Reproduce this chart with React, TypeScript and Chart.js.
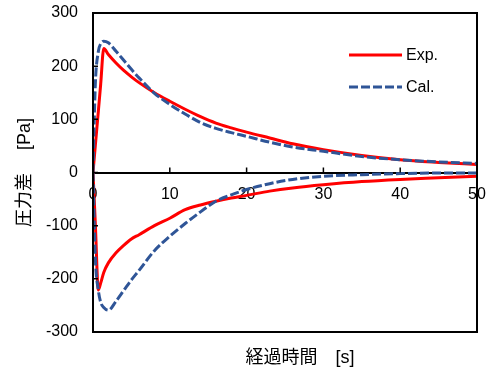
import React, { useEffect, useRef } from "react";
import { Chart, registerables } from "chart.js";

Chart.register(...registerables);

// Elapsed time [s] shared by every branch
const timeS = [0, 0.3, 0.7, 1, 1.4, 2, 3, 4, 5, 6, 8, 10, 12, 14, 16, 18, 20, 23, 26, 30, 35, 40, 45, 50];

// Measured pressure difference [Pa]: positive and negative branches
const expPositive = [0, 50, 116, 166, 233, 222, 206, 192, 180, 169, 150, 134, 119, 105, 93, 84, 76, 65, 54, 43, 32, 24, 19, 15];
const expNegative = [0, -95, -221, -208, -188, -170, -151, -137, -125, -117, -100, -86, -70, -61, -54, -48, -43, -35, -29, -23, -17, -13, -10, -7];

// Calculated pressure difference [Pa]: positive and negative branches
const calPositive = [0, 165, 228, 242, 247, 244, 228, 211, 194, 178, 149, 128, 110, 94, 83, 75, 68, 57, 48, 40, 30, 24, 20, 17];
const calNegative = [0, -160, -222, -244, -254, -259, -242, -222, -202, -184, -147, -120, -96, -74, -54, -42, -32, -21, -13, -7, -4, -2, -1, -1];

const seriesNames = ["Exp.", "Cal."];
const xAxisTitle = "経過時間　[s]";
const yAxisTitle = "圧力差　 [Pa]";

const RED = "#FF0000";
const BLUE = "#2F5597";
const DASH = [9, 3];
const FONT = '"Liberation Sans", Arial, "Noto Sans CJK JP", sans-serif';

const toPoints = (values: number[]) => timeS.map((t, i) => ({ x: t, y: values[i] }));

// Box around the plot, inward tick marks, legend and the bottom axis title
const decorations = {
  id: "decorations",
  afterDatasetsDraw(chart: any) {
    const { ctx, chartArea: a, scales } = chart;
    const xs = scales.x;
    const ys = scales.y;
    ctx.save();
    ctx.strokeStyle = "#000";
    ctx.lineWidth = 2;
    ctx.strokeRect(a.left, a.top, a.right - a.left, a.bottom - a.top);

    ctx.lineWidth = 1.5;
    ctx.beginPath();
    ys.ticks.forEach((t: any) => {
      const py = ys.getPixelForValue(t.value);
      ctx.moveTo(a.left, py);
      ctx.lineTo(a.left + 5, py);
    });
    const y0 = ys.getPixelForValue(0);
    xs.ticks.forEach((t: any) => {
      const px = xs.getPixelForValue(t.value);
      ctx.moveTo(px, y0);
      ctx.lineTo(px, y0 - 5);
    });
    ctx.stroke();

    // legend: one entry per series name
    ctx.font = `16px ${FONT}`;
    ctx.fillStyle = "#000";
    ctx.textAlign = "left";
    ctx.textBaseline = "middle";
    seriesNames.forEach((name, i) => {
      const ds = chart.data.datasets.find((d: any) => d.label === name);
      const rowY = 55 + i * 32;
      ctx.save();
      ctx.strokeStyle = ds.borderColor;
      ctx.lineWidth = ds.borderWidth;
      ctx.setLineDash(ds.borderDash || []);
      ctx.beginPath();
      ctx.moveTo(349, rowY);
      ctx.lineTo(402, rowY);
      ctx.stroke();
      ctx.restore();
      ctx.fillText(name, 406, rowY + 1);
    });

    ctx.font = `18px ${FONT}`;
    ctx.textAlign = "center";
    ctx.fillText(xAxisTitle, 300, 358);
    ctx.restore();
  },
};

export default function App() {
  const canvasRef = useRef<HTMLCanvasElement | null>(null);

  useEffect(() => {
    if (!canvasRef.current) return;
    const common = { pointRadius: 0, borderWidth: 3, fill: false, showLine: true, cubicInterpolationMode: "monotone" as const };
    const chart = new Chart(canvasRef.current, {
      type: "scatter",
      data: {
        datasets: [
          { ...common, label: seriesNames[0], data: toPoints(expPositive), borderColor: RED, order: 1 },
          { ...common, label: seriesNames[0], data: toPoints(expNegative), borderColor: RED, order: 1 },
          { ...common, label: seriesNames[1], data: toPoints(calPositive), borderColor: BLUE, borderDash: DASH, order: 0 },
          { ...common, label: seriesNames[1], data: toPoints(calNegative), borderColor: BLUE, borderDash: DASH, order: 0 },
        ],
      },
      options: {
        animation: false,
        responsive: false,
        layout: { padding: { left: 0, top: 13, right: 11, bottom: 40 } },
        plugins: { legend: { display: false }, tooltip: { enabled: false } },
        scales: {
          x: {
            type: "linear",
            position: { y: 0 },
            min: 0,
            max: 50,
            ticks: { stepSize: 10, color: "#000", font: { family: FONT, size: 16 }, padding: 12, maxRotation: 0 },
            grid: { display: false, drawTicks: false },
            border: { display: true, color: "#000", width: 2 },
            afterFit: (s: any) => {
              s.paddingLeft = 0;
              s.paddingRight = 0;
            },
          },
          y: {
            type: "linear",
            position: "left",
            min: -300,
            max: 300,
            ticks: { stepSize: 100, color: "#000", font: { family: FONT, size: 16 }, padding: 15 },
            grid: { display: false, drawTicks: false },
            border: { display: true, color: "#000", width: 2 },
            title: {
              display: true,
              text: yAxisTitle,
              color: "#000",
              font: { family: FONT, size: 18 },
              padding: { top: 14, bottom: 0 },
            },
            afterFit: (s: any) => {
              s.width = 93;
              s.paddingTop = 0;
              s.paddingBottom = 0;
            },
          },
        },
      } as any,
      plugins: [decorations],
    });
    return () => chart.destroy();
  }, []);

  return (
    <div style={{ position: "absolute", left: 0, top: 0, width: 488, height: 372, background: "#fff" }}>
      <canvas ref={canvasRef} width={488} height={372} />
    </div>
  );
}
